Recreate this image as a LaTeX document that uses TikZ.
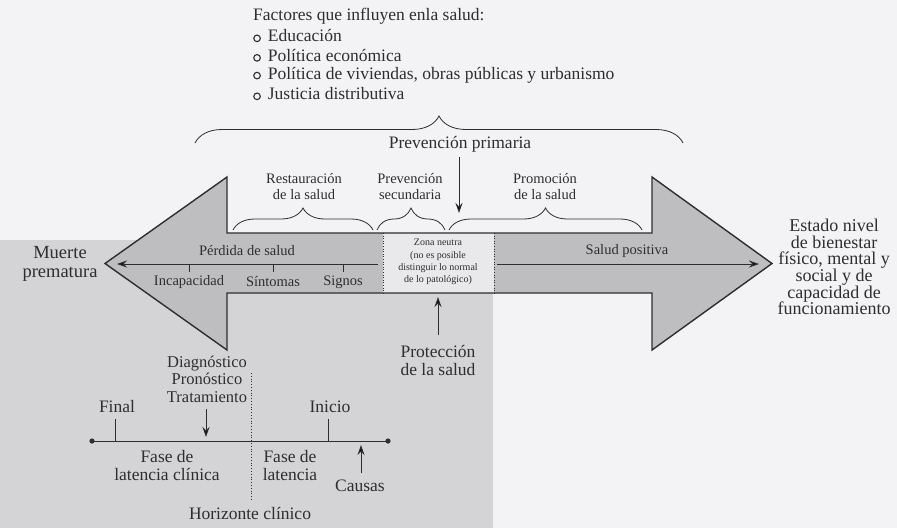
\documentclass[tikz,border=0pt]{standalone}
\usepackage{fontspec}
\setmainfont{Liberation Serif}
\usetikzlibrary{decorations.pathreplacing,arrows.meta}
\definecolor{bg}{HTML}{F3F3F5}
\definecolor{zonegray}{HTML}{D4D4D6}
\definecolor{arrowgray}{HTML}{BEBEC0}
\definecolor{neutral}{HTML}{E9E9EB}
\definecolor{dark}{HTML}{2E2E2E}
\newcommand\bul{\tikz[baseline=0pt]\draw[line width=1.1pt,dark] (3.5pt,3.6pt) circle (3.3pt);\hspace{7pt}}
\begin{document}
\begin{tikzpicture}[x=1pt,y=-1pt,
  txt/.style={text=dark, inner sep=0pt, align=center},
  fbig/.style={txt, font=\fontsize{17.5}{18}\selectfont},
  fmid/.style={txt, font=\fontsize{14.5}{16}\selectfont},
  fsmall/.style={txt, font=\fontsize{10}{12.2}\selectfont},
  body/.style={draw=dark, line width=1.4pt, line join=miter},
  conn/.style={draw=dark, line width=1pt, -{Stealth[length=10pt,width=7pt]}},
  tickl/.style={draw=dark, line width=0.9pt},
  brc/.style={draw=dark, line width=0.8pt, decorate, decoration={brace, amplitude=#1}},
]
\useasboundingbox (0,0) rectangle (897,528);
\fill[bg] (0,0) rectangle (897,528);
\fill[zonegray] (0,240) rectangle (493,528);

% double arrow
\path[fill=arrowgray] (105,263.5) -- (227,177) -- (227,233) -- (652,233) -- (652,177) -- (772,263.5) -- (652,350) -- (652,293) -- (227,293) -- (227,350) -- cycle;
\fill[neutral] (383,233) rectangle (494,293);
\draw[dark, line width=0.6pt, dotted] (383,233) -- (383,293) (494,233) -- (494,293);
\draw[body] (105,263.5) -- (227,177) -- (227,233) -- (652,233) -- (652,177) -- (772,263.5) -- (652,350) -- (652,293) -- (227,293) -- (227,350) -- cycle;

% top list
\node[fbig, anchor=west] (f0) at (253,16) {Factores que influyen enla salud:};
\node[fbig, anchor=west] (f1) at (253,36) {\bul Educación};
\node[fbig, anchor=west] (f2) at (253,55.5) {\bul Política económica};
\node[fbig, anchor=west] (f3) at (253,75) {\bul Política de viviendas, obras públicas y urbanismo};
\node[fbig, anchor=west] (f4) at (253,94) {\bul Justicia distributiva};

% braces
\coordinate (bb1) at (195,143); \coordinate (bb2) at (683,143);
\draw[brc=27pt] (bb1) -- (bb2);
\node[fbig] (pp) at (460,144) {Prevención primaria};
\coordinate (ppa) at (459,157); \coordinate (ppb) at (459,213);
\draw[conn] (ppa) -- (ppb);

\coordinate (r1) at (233,230); \coordinate (r2) at (373,230);
\coordinate (s1) at (377,230); \coordinate (s2) at (445,230);
\coordinate (p1) at (449,230); \coordinate (p2) at (642,230);
\draw[brc=22pt] (r1) -- (r2);
\draw[brc=22pt] (s1) -- (s2);
\draw[brc=22pt] (p1) -- (p2);
\node[fmid] (rest) at (304,187) {Restauración\\de la salud};
\node[fmid] (psec) at (410,187) {Prevención\\secundaria};
\node[fmid] (prom) at (545,187) {Promoción\\de la salud};

% inner arrows
\coordinate (la) at (378,264); \coordinate (lb) at (117,264);
\coordinate (ra) at (497,264); \coordinate (rb) at (759,264);
\draw[conn] (la) -- (lb);
\draw[conn] (ra) -- (rb);
\coordinate (t1) at (189,264); \coordinate (t2) at (273,264); \coordinate (t3) at (343,264);
\draw[tickl] (t1) -- ++(0,8) (t2) -- ++(0,8) (t3) -- ++(0,8);
\node[fmid] (perd) at (247,251) {Pérdida de salud};
\node[fmid] (incap) at (189,282) {Incapacidad};
\node[fmid] (sint) at (273,282) {Síntomas};
\node[fmid] (sign) at (343,282) {Signos};
\node[fmid] (salpos) at (627,251) {Salud positiva};

\node[fsmall] (zona) at (438,262) {Zona neutra\\(no es posible\\distinguir lo normal\\de lo patológico)};

\node[txt, font=\fontsize{18.5}{18.5}\selectfont] (muerte) at (60,264) {Muerte\\prematura};
\node[txt, font=\fontsize{18}{16.7}\selectfont] (estado) at (834,267) {Estado nivel\\de bienestar\\físico, mental y\\social y de\\capacidad de\\funcionamiento};

\coordinate (pra) at (438,335); \coordinate (prb) at (438,297);
\draw[conn] (pra) -- (prb);
\node[fbig] (prot) at (438,360) {Protección\\de la salud};

% timeline
\coordinate (tl1) at (92,441); \coordinate (tl2) at (388,441);
\draw[dark, line width=1pt] (tl1) -- (tl2);
\fill[dark] (tl1) circle (2.6pt) (tl2) circle (2.6pt);
\coordinate (fin) at (115,441); \coordinate (ini) at (328,441);
\draw[tickl] (fin) -- ++(0,-22) (ini) -- ++(0,-22);
\node[fbig] (final) at (117,407) {Final};
\node[fbig] (inicio) at (330,407) {Inicio};
\coordinate (hz1) at (251,373); \coordinate (hz2) at (251,500);
\draw[dark, line width=0.8pt, dotted] (hz1) -- (hz2);
\node[txt, font=\fontsize{16.5}{17.5}\selectfont] (diag) at (207,379) {Diagnóstico\\Pronóstico\\Tratamiento};
\coordinate (da) at (206,409); \coordinate (db) at (206,437);
\draw[conn] (da) -- (db);
\node[fbig] (flc) at (167,466) {Fase de\\latencia clínica};
\node[fbig] (fl) at (290,466) {Fase de\\latencia};
\coordinate (ca) at (361,473); \coordinate (cb) at (361,445);
\draw[conn] (ca) -- (cb);
\node[fbig] (causas) at (360,486) {Causas};
\node[fbig] (horiz) at (250,513) {Horizonte clínico};
\end{tikzpicture}
\end{document}
